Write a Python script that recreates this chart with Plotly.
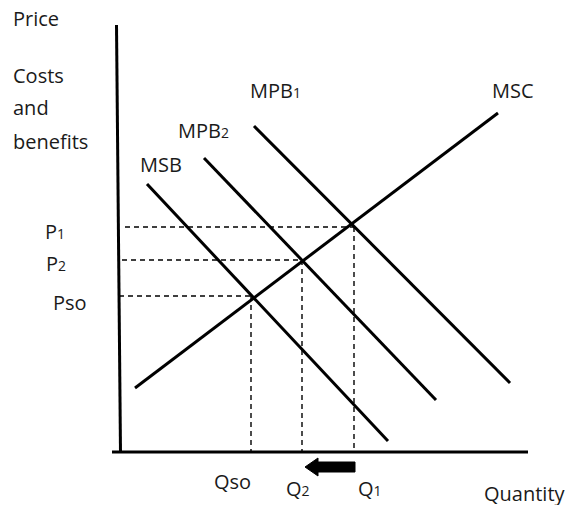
import plotly.graph_objects as go

# ---- data (diagram units) ----
curve_names = ["MSC", "MSB", "MPB2", "MPB1"]
curve_x = {"MSC": [1.6, 37.9], "MSB": [2.8, 26.9], "MPB2": [8.5, 31.7], "MPB1": [13.5, 39.1]}
curve_y = {"MSC": [6.4, 33.9], "MSB": [26.8, 1.1], "MPB2": [29.4, 5.2], "MPB1": [32.6, 6.9]}

price_names = ["P1", "P2", "Pso"]
price_vals = [22.5, 19.2, 15.6]
price_start = [0.6, 0.3, 0.0]
qty_names = ["Q1", "Q2", "Qso"]
qty_vals = [23.5, 18.3, 13.2]

arrow_from = 23.6   # shift of quantity from Q1 ...
arrow_to = 18.6     # ... towards Q2

W, H = 571, 505
OX, OY, S = 119, 452, 10.0  # origin pixel and pixels per unit (for axis ranges)

def px(x):
    return (x - OX) / S

def py(y):
    return (OY - y) / S

fig = go.Figure()

line_style = dict(color="black", width=3)
for n in curve_names:
    fig.add_trace(go.Scatter(x=curve_x[n], y=curve_y[n], mode="lines",
                             line=line_style, hoverinfo="skip", showlegend=False))

dash_style = dict(color="black", width=1.4, dash="5px,4px")
for name, p, q, s in zip(price_names, price_vals, qty_vals, price_start):
    fig.add_trace(go.Scatter(x=[s, q], y=[p, p], mode="lines", line=dash_style,
                             hoverinfo="skip", showlegend=False))
    fig.add_trace(go.Scatter(x=[q, q], y=[p, 0], mode="lines", line=dash_style,
                             hoverinfo="skip", showlegend=False))

# axes
fig.add_shape(type="line", x0=-0.25, y0=42.7, x1=0.15, y1=0, line=dict(color="black", width=3))
fig.add_shape(type="line", x0=px(112), y0=0, x1=px(528), y1=0, line=dict(color="black", width=3))

# arrow (Q1 -> Q2)
yc, hs, hh, hl = -1.5, 0.5, 0.9, 1.3
path = (f"M {arrow_from},{yc-hs} L {arrow_to+hl},{yc-hs} L {arrow_to+hl},{yc-hh} "
        f"L {arrow_to},{yc} L {arrow_to+hl},{yc+hh} L {arrow_to+hl},{yc+hs} "
        f"L {arrow_from},{yc+hs} Z")
fig.add_shape(type="path", path=path, fillcolor="black", line=dict(color="black", width=1))

FONT = "Open Sans, Lato, sans-serif"
TC = "#1a1a1a"

def sub(base, d):
    return f"{base}<span style='font-size:14px'>{d}</span>"

labels = [
    ("Price", 11, 18),
    ("Costs", 11, 75),
    ("and", 11, 107),
    ("benefits", 11, 141),
    (sub("MPB", "1"), 248, 90),
    ("MSC", 490, 90),
    (sub("MPB", "2"), 176, 130),
    ("MSB", 138, 164),
    (sub("P", "1"), 43, 231),
    (sub("P", "2"), 44, 263),
    ("Pso", 51, 302),
    ("Qso", 212, 481),
    (sub("Q", "2"), 284, 488),
    (sub("Q", "1"), 356, 488),
    ("Quantity", 482, 493),
]
for t, lx, ly in labels:
    fig.add_annotation(x=px(lx), y=py(ly), text=t, showarrow=False, xanchor="left",
                       yanchor="middle", font=dict(family=FONT, size=20, color=TC))

fig.update_layout(
    width=W, height=H, margin=dict(l=0, r=0, t=0, b=0),
    paper_bgcolor="white", plot_bgcolor="white",
    xaxis=dict(range=[px(0), px(W)], visible=False, fixedrange=True),
    yaxis=dict(range=[py(H), py(0)], visible=False, fixedrange=True),
    showlegend=False,
)
fig.write_html("out.html", config={"displayModeBar": False},
               post_script="document.body.style.margin='0px';document.body.style.overflow='hidden';")
